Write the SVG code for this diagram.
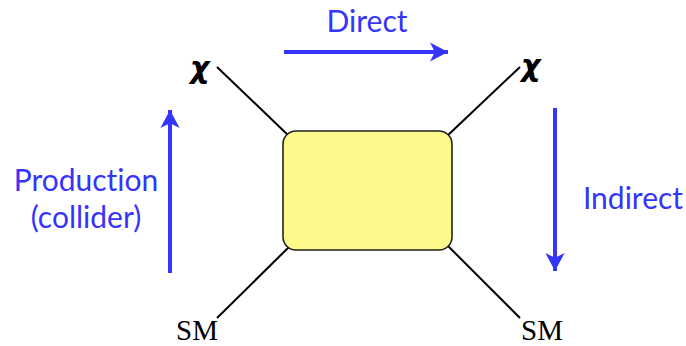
<svg xmlns="http://www.w3.org/2000/svg" width="686" height="346" viewBox="0 0 686 346">
<defs>
<style>
.lbl{font-family:Lato,"Open Sans",sans-serif;font-size:30px;fill:#3434fa;font-variant-ligatures:none}
.chi{font-family:"DejaVu Sans",sans-serif;font-size:30px;font-weight:bold;font-style:italic;fill:#000}
.sm{font-family:"Liberation Serif",serif;font-size:29px;fill:#000}
.leg{stroke:#000;stroke-width:2;fill:none}
.arr{stroke:#3434fa;stroke-width:4;fill:none}
</style>
<marker id="ah" markerWidth="6" markerHeight="6" refX="4.5" refY="3" orient="auto" markerUnits="strokeWidth" viewBox="0 0 6 6">
<path d="M0,0.6 L4.5,3 L0,5.4 L1.2,3 Z" fill="#3434fa"/>
</marker>
</defs>
<g id="connectors">
<line class="leg" x1="217" y1="67" x2="290" y2="137"/>
<line class="leg" x1="520" y1="67" x2="446" y2="137"/>
<line class="leg" x1="217" y1="318" x2="290" y2="246"/>
<line class="leg" x1="520" y1="318" x2="448" y2="246"/>
</g>
<g id="blob">
<rect x="283" y="131" width="169" height="119" rx="13" ry="13" fill="#fdfa8b" stroke="#222" stroke-width="1.6"/>
</g>
<g id="chi-left"><text class="chi" x="190" y="78">χ</text></g>
<g id="chi-right"><text class="chi" x="521" y="76">χ</text></g>
<g id="sm-left"><text class="sm" x="176" y="340">SM</text></g>
<g id="sm-right"><text class="sm" x="521" y="340">SM</text></g>
<g id="direct">
<line class="arr" x1="284" y1="52" x2="448" y2="52" marker-end="url(#ah)"/>
<text class="lbl" x="367" y="32" text-anchor="middle">Direct</text>
</g>
<g id="production">
<line class="arr" x1="170" y1="273" x2="170" y2="110" marker-end="url(#ah)"/>
<text class="lbl" x="86" y="191" text-anchor="middle">Production</text>
<text class="lbl" x="86" y="228" text-anchor="middle">(collider)</text>
</g>
<g id="indirect">
<line class="arr" x1="555" y1="108" x2="555" y2="271" marker-end="url(#ah)"/>
<text class="lbl" x="633" y="209" text-anchor="middle">Indirect</text>
</g>
</svg>
